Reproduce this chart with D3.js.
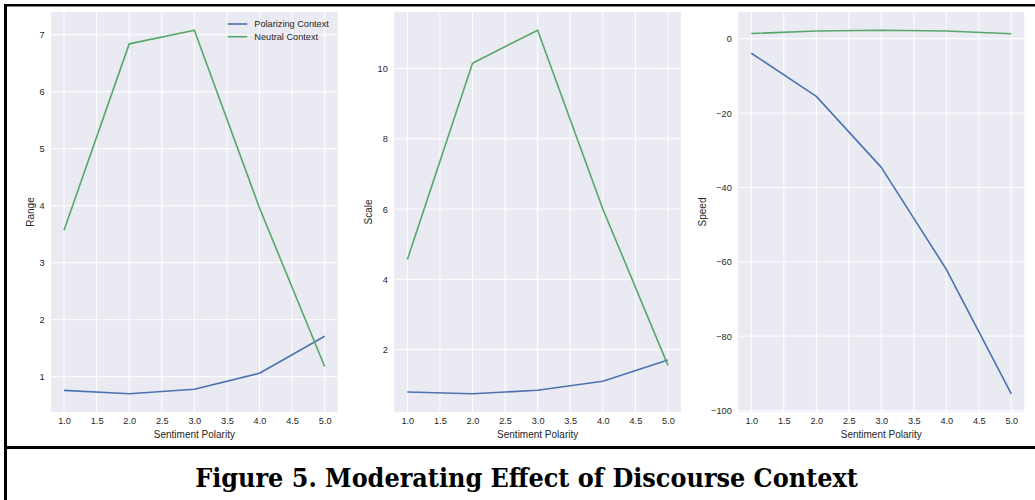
<!DOCTYPE html>
<html>
<head>
<meta charset="utf-8">
<script src="https://cdn.jsdelivr.net/npm/d3@7"></script>
<style>
  html, body { margin: 0; padding: 0; background: #ffffff; }
  svg { display: block; }
</style>
</head>
<body>
<svg id="chart" width="1035" height="500"></svg>
<script>
// ---------------- DATA ----------------
const sentimentPolarity = [1, 2, 3, 4, 5];
const seriesNames = ["Polarizing Context", "Neutral Context"];

const rangePolarizing = [0.76, 0.70, 0.78, 1.06, 1.71];
const rangeNeutral    = [3.57, 6.84, 7.08, 3.96, 1.18];

const scalePolarizing = [0.79, 0.74, 0.84, 1.10, 1.70];
const scaleNeutral    = [4.56, 10.15, 11.09, 6.00, 1.55];

const speedPolarizing = [-3.9, -15.5, -34.6, -62.0, -95.5];
const speedNeutral    = [1.4, 2.1, 2.3, 2.1, 1.35];

const xTicks = [1.0, 1.5, 2.0, 2.5, 3.0, 3.5, 4.0, 4.5, 5.0];
const rangeTicks = [1, 2, 3, 4, 5, 6, 7];
const scaleTicks = [2, 4, 6, 8, 10];
const speedTicks = [0, -20, -40, -60, -80, -100];

const yLabels = ["Range", "Scale", "Speed"];
const xLabel = "Sentiment Polarity";
const titleText = "Figure 5. Moderating Effect of Discourse Context";

// ---------------- STYLE / LAYOUT ----------------
const colors = ["#4C72B0", "#55A868"];
const bg = "#EAEAF2";
const textColor = "#262626";
const fontFamily = "'Liberation Sans', Arial, sans-serif";

const panels = [
  { left: 51,    right: 337.7,  pol: rangePolarizing, neu: rangeNeutral, ticks: rangeTicks, label: yLabels[0], legend: true },
  { left: 394.3, right: 681,    pol: scalePolarizing, neu: scaleNeutral, ticks: scaleTicks, label: yLabels[1], legend: false },
  { left: 738.3, right: 1024.3, pol: speedPolarizing, neu: speedNeutral, ticks: speedTicks, label: yLabels[2], legend: false }
];
const plotTop = 12, plotBottom = 412;

const svg = d3.select("#chart");
svg.append("rect").attr("width", 1035).attr("height", 500).attr("fill", "#fff");

const fmtY = d => (d < 0 ? "\u2212" + Math.abs(d) : String(d));
const fmtX = d3.format(".1f");

panels.forEach(p => {
  const g = svg.append("g");
  const x = d3.scaleLinear().domain([0.8, 5.2]).range([p.left, p.right]);
  const all = p.pol.concat(p.neu);
  const mn = d3.min(all), mx = d3.max(all), pad = (mx - mn) * 0.05;
  const y = d3.scaleLinear().domain([mn - pad, mx + pad]).range([plotBottom, plotTop]);

  g.append("rect")
    .attr("x", p.left).attr("y", plotTop)
    .attr("width", p.right - p.left).attr("height", plotBottom - plotTop)
    .attr("fill", bg);

  // grid
  g.selectAll("line.vg").data(xTicks).join("line")
    .attr("x1", d => x(d)).attr("x2", d => x(d))
    .attr("y1", plotTop).attr("y2", plotBottom)
    .attr("stroke", "#fff").attr("stroke-width", 1);
  g.selectAll("line.hg").data(p.ticks).join("line")
    .attr("x1", p.left).attr("x2", p.right)
    .attr("y1", d => y(d)).attr("y2", d => y(d))
    .attr("stroke", "#fff").attr("stroke-width", 1);

  // x axis via d3.axisBottom
  const xAxis = d3.axisBottom(x).tickValues(xTicks).tickFormat(fmtX).tickSize(0).tickPadding(5);
  const xa = g.append("g").attr("transform", `translate(0,${plotBottom})`).call(xAxis);
  xa.select(".domain").remove();
  xa.selectAll("text").attr("font-family", fontFamily).attr("font-size", 9.2).attr("fill", textColor);

  // y axis
  const yAxis = d3.axisLeft(y).tickValues(p.ticks).tickFormat(fmtY).tickSize(0).tickPadding(6.5);
  const ya = g.append("g").attr("transform", `translate(${p.left},0)`).call(yAxis);
  ya.select(".domain").remove();
  ya.selectAll("text").attr("font-family", fontFamily).attr("font-size", 9.2).attr("fill", textColor)
    .attr("dy", "0.34em");
  let maxW = 0;
  ya.selectAll("text").each(function () { maxW = Math.max(maxW, this.getComputedTextLength()); });

  // labels
  g.append("text")
    .attr("x", (p.left + p.right) / 2).attr("y", 437.5)
    .attr("text-anchor", "middle")
    .attr("font-family", fontFamily).attr("font-size", 10).attr("fill", textColor)
    .text(xLabel);
  const lx = p.left - 6.5 - maxW - 9;
  const ly = (plotTop + plotBottom) / 2;
  g.append("text")
    .attr("transform", `translate(${lx + 3.5},${ly}) rotate(-90)`)
    .attr("text-anchor", "middle")
    .attr("font-family", fontFamily).attr("font-size", 10).attr("fill", textColor)
    .text(p.label);

  // lines
  const line = d3.line().x((d, i) => x(sentimentPolarity[i])).y(d => y(d));
  [p.pol, p.neu].forEach((s, k) => {
    g.append("path").datum(s)
      .attr("d", line).attr("fill", "none")
      .attr("stroke", colors[k]).attr("stroke-width", 1.6)
      .attr("stroke-linejoin", "round").attr("stroke-linecap", "butt");
  });

  if (p.legend) {
    const lg = g.append("g");
    seriesNames.forEach((n, k) => {
      const yy = 24 + k * 12.7;
      lg.append("line").attr("x1", p.right - 110).attr("x2", p.right - 90.4)
        .attr("y1", yy).attr("y2", yy).attr("stroke", colors[k]).attr("stroke-width", 1.6);
      lg.append("text").attr("x", p.right - 83.4).attr("y", yy).attr("dy", "0.34em")
        .attr("font-family", fontFamily).attr("font-size", 9.2).attr("fill", textColor)
        .text(n);
    });
  }
});

// frame
svg.append("rect").attr("x", 4).attr("y", 4).attr("width", 3).attr("height", 496).attr("fill", "#000");
svg.append("rect").attr("x", 4).attr("y", 4).attr("width", 1031).attr("height", 2.5).attr("fill", "#000");
svg.append("rect").attr("x", 4).attr("y", 446).attr("width", 1031).attr("height", 3).attr("fill", "#000");

// title
const title = svg.append("text")
  .attr("x", 526.5).attr("y", 486.5)
  .attr("text-anchor", "middle")
  .attr("font-family", "Georgia, 'DejaVu Serif', serif")
  .attr("font-weight", "bold")
  .attr("font-stretch", "condensed")
  .attr("font-size", 23)
  .attr("fill", "#000")
  .text(titleText);
const tw = title.node().getComputedTextLength();
title.attr("font-size", 23 * 663 / tw);
</script>
</body>
</html>
